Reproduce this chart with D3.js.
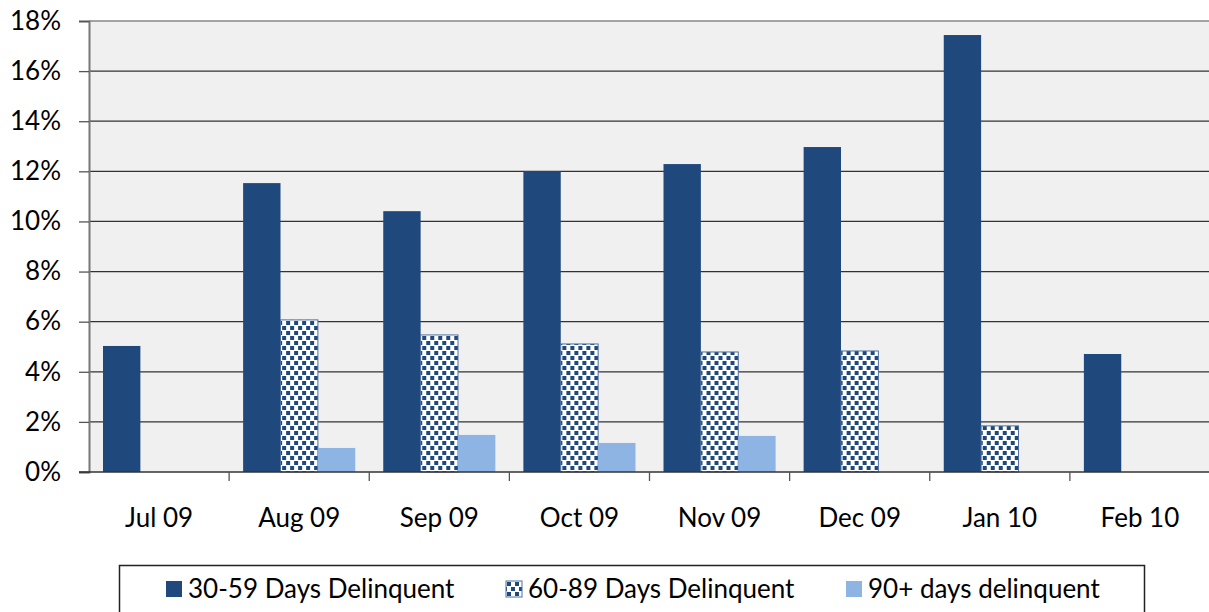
<!DOCTYPE html>
<html>
<head>
<meta charset="utf-8">
<script src="https://cdn.jsdelivr.net/npm/d3@7"></script>
<style>
  body { margin: 0; background: #fff; }
  text { font-family: Lato, "Open Sans", sans-serif; fill: #000; }
</style>
</head>
<body>
<svg id="chart" width="1209" height="612"></svg>
<script>
var months = ["Jul 09", "Aug 09", "Sep 09", "Oct 09", "Nov 09", "Dec 09", "Jan 10", "Feb 10"];
var seriesNames = ["30-59 Days Delinquent", "60-89 Days Delinquent", "90+ days delinquent"];
var days30 = [5.03, 11.53, 10.41, 12.01, 12.29, 12.97, 17.44, 4.71];
var days60 = [0, 6.07, 5.47, 5.11, 4.79, 4.83, 1.84, 0];
var days90 = [0, 0.96, 1.48, 1.16, 1.44, 0, 0, 0];
var yTicks = [0, 2, 4, 6, 8, 10, 12, 14, 16, 18];

var svg = d3.select("#chart"),
    plotLeft = 89, plotRight = 1210, plotTop = 21, plotBottom = 472;

// dotted fill for the 60-89 series
var defs = svg.append("defs");
var pat = defs.append("pattern")
    .attr("id", "dots")
    .attr("patternUnits", "userSpaceOnUse")
    .attr("width", 8).attr("height", 10);
pat.append("rect").attr("width", 8).attr("height", 10).attr("fill", "#fff");
pat.append("rect").attr("x", 1).attr("y", 1).attr("width", 4).attr("height", 4).attr("fill", "#1F497D");
pat.append("rect").attr("x", 5).attr("y", 6).attr("width", 3).attr("height", 4).attr("fill", "#1F497D");
pat.append("rect").attr("x", 0).attr("y", 6).attr("width", 1).attr("height", 4).attr("fill", "#1F497D");

var x0 = d3.scaleBand().domain(months).range([plotLeft, plotRight]).padding(0);
var x1 = d3.scaleBand().domain(seriesNames).range([14, x0.bandwidth() - 14]).padding(0);
var y = d3.scaleLinear().domain([0, 18]).range([plotBottom, plotTop]);

// plot background
svg.append("rect")
    .attr("x", plotLeft).attr("y", plotTop)
    .attr("width", plotRight - plotLeft).attr("height", plotBottom - plotTop)
    .attr("fill", "#F0F0F0");

// gridlines
svg.append("g").selectAll("line")
    .data(yTicks.slice(1))
    .enter().append("line")
    .attr("x1", plotLeft).attr("x2", plotRight)
    .attr("y1", function(d) { return y(d); })
    .attr("y2", function(d) { return y(d); })
    .attr("stroke", function(d) { return d == 18 ? "#888" : "#333"; })
    .attr("stroke-width", 1.3);

// bars
var data = months.map(function(m, i) {
    return { month: m, vals: [days30[i], days60[i], days90[i]] };
});
var fills = ["#1F497D", "url(#dots)", "#8EB4E3"];

var groups = svg.append("g").selectAll("g")
    .data(data)
    .enter().append("g")
    .attr("transform", function(d) { return "translate(" + x0(d.month) + ",0)"; });

groups.selectAll("rect")
    .data(function(d) {
        return d.vals.map(function(v, j) { return { name: seriesNames[j], v: v, j: j }; })
            .filter(function(e) { return e.v > 0; });
    })
    .enter().append("rect")
    .attr("x", function(d) { return x1(d.name); })
    .attr("y", function(d) { return y(d.v); })
    .attr("width", x1.bandwidth())
    .attr("height", function(d) { return plotBottom - y(d.v); })
    .attr("fill", function(d) { return fills[d.j]; })
    .attr("stroke", function(d) { return d.j == 1 ? "#4F6FA0" : "none"; })
    .attr("stroke-width", 1);

// y axis
var yAxis = svg.append("g")
    .attr("transform", "translate(" + plotLeft + ",0)")
    .call(d3.axisLeft(y).tickValues(yTicks).tickSize(10).tickPadding(18)
        .tickFormat(function(d) { return d + "%"; }));
yAxis.select(".domain").attr("stroke", "#777").attr("stroke-width", 2);
yAxis.selectAll(".tick line").attr("stroke", "#555").attr("stroke-width", 1.3);
yAxis.selectAll("text").attr("font-size", 26).style("font-family", "Lato, sans-serif");

// x axis
var xAxis = svg.append("g")
    .attr("transform", "translate(0," + plotBottom + ")")
    .call(d3.axisBottom(x0).tickSize(0).tickPadding(37));
xAxis.select(".domain").remove();
xAxis.selectAll("text").attr("font-size", 26).style("font-family", "Lato, sans-serif");
svg.append("line")
    .attr("x1", plotLeft - 10).attr("x2", plotRight)
    .attr("y1", plotBottom).attr("y2", plotBottom)
    .attr("stroke", "#333").attr("stroke-width", 1.5);
svg.append("g").selectAll("line")
    .data(months.slice(1))
    .enter().append("line")
    .attr("x1", function(d) { return x0(d); })
    .attr("x2", function(d) { return x0(d); })
    .attr("y1", plotBottom).attr("y2", plotBottom + 9)
    .attr("stroke", "#555").attr("stroke-width", 1.3);

// legend
var legend = svg.append("g");
legend.append("rect")
    .attr("x", 119.5).attr("y", 565.5)
    .attr("width", 1025).attr("height", 60)
    .attr("fill", "#fff").attr("stroke", "#222").attr("stroke-width", 1.5);
var legendX = [166, 506, 846];
var items = legend.selectAll("g.item")
    .data(seriesNames)
    .enter().append("g")
    .attr("class", "item")
    .attr("transform", function(d, i) { return "translate(" + legendX[i] + ",581)"; });
items.append("rect")
    .attr("width", 16).attr("height", 16)
    .attr("fill", function(d, i) { return fills[i]; })
    .attr("stroke", function(d, i) { return i == 1 ? "#4F6FA0" : "none"; });
items.append("text")
    .attr("x", 22).attr("y", 17)
    .attr("font-size", 26)
    .text(function(d) { return d; });
</script>
</body>
</html>
